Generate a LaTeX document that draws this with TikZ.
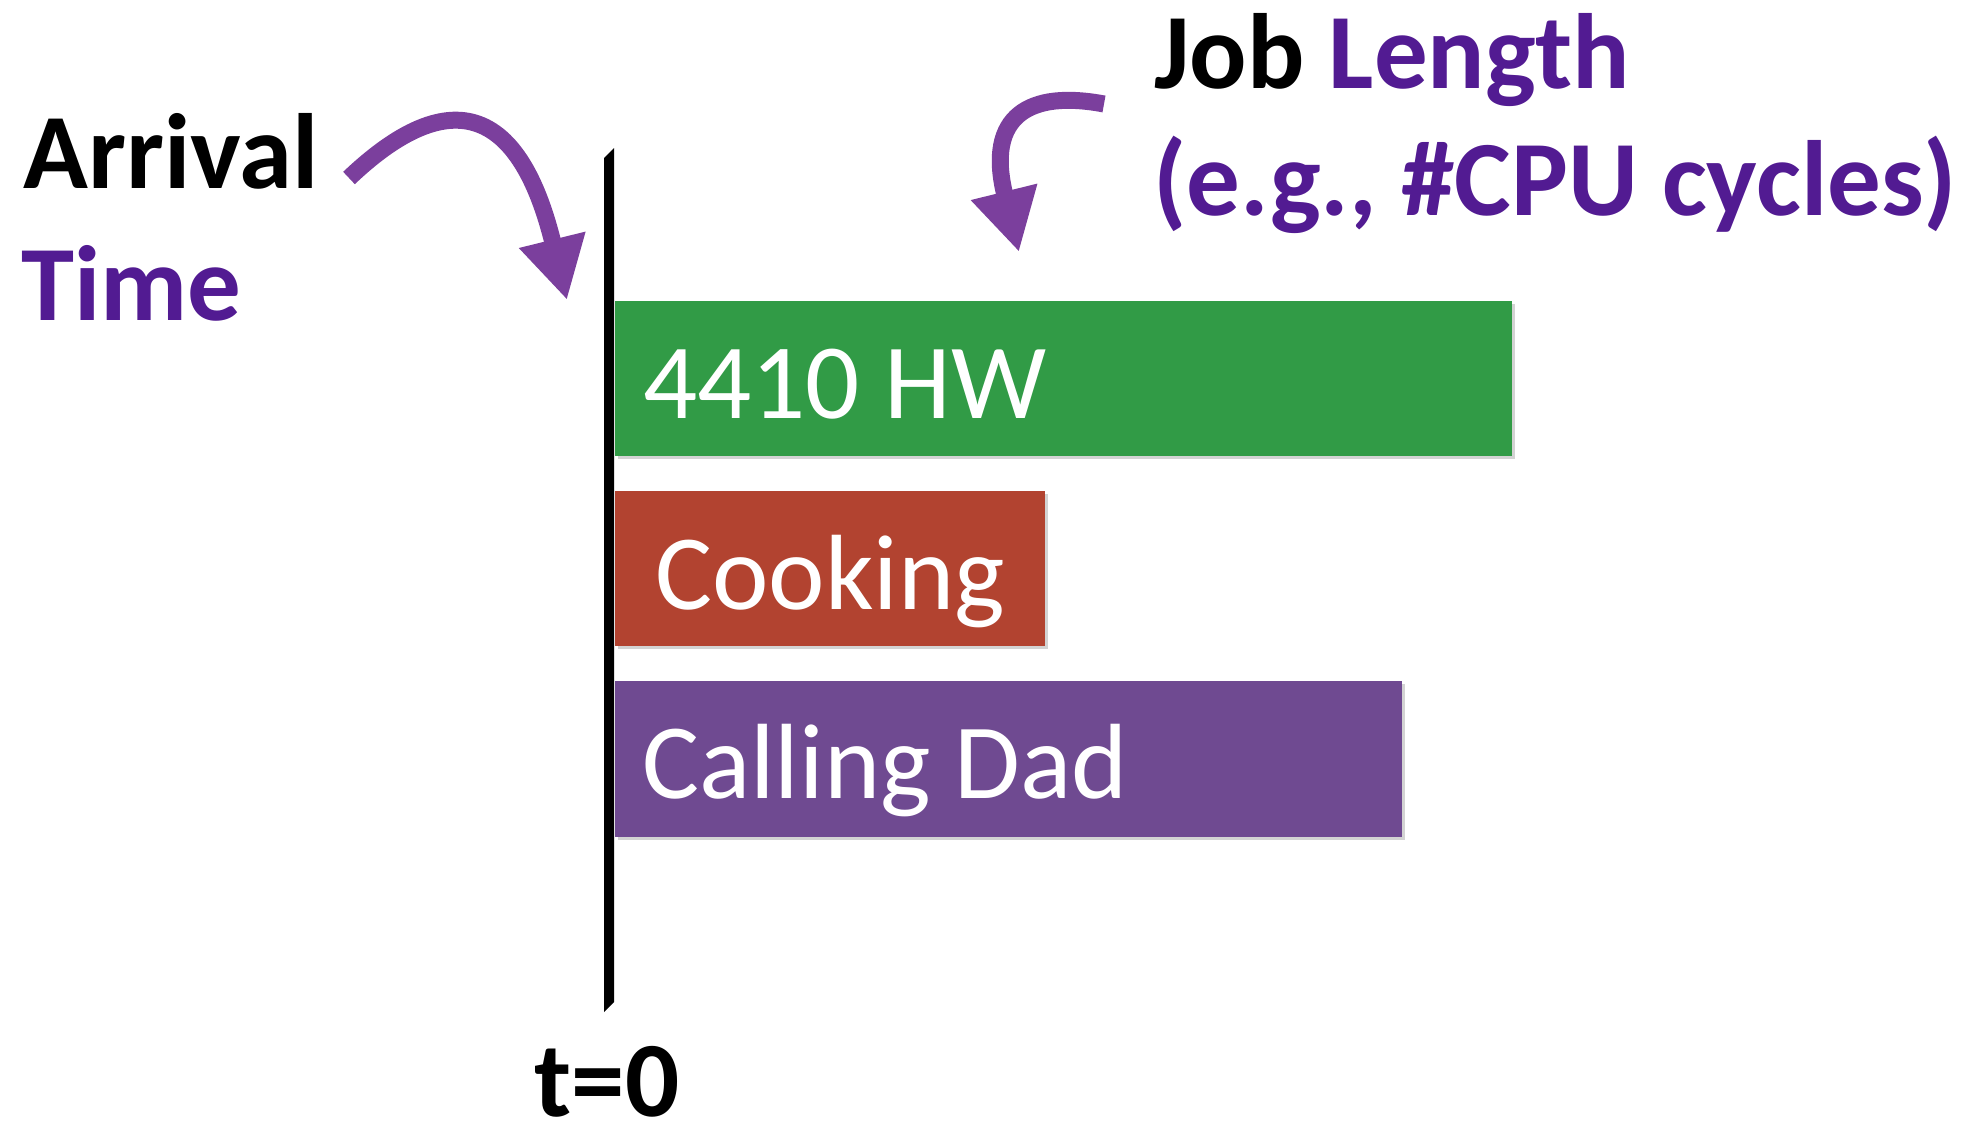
\documentclass[tikz,border=0pt]{standalone}
\usepackage{fontspec}
\setmainfont{Carlito}
\usetikzlibrary{arrows.meta,shadows}
\definecolor{headpurple}{HTML}{521B92}
\definecolor{arrowpurple}{HTML}{7B3F9D}
\definecolor{hwgreen}{HTML}{319B46}
\definecolor{cookred}{HTML}{B24330}
\definecolor{dadpurple}{HTML}{6F4A91}
\begin{document}
\begin{tikzpicture}[x=1pt,y=-1pt,
  heading/.style={inner sep=0pt, anchor=base west, font=\fontsize{107}{128}\selectfont\bfseries},
  barlabel/.style={inner sep=0pt, anchor=base west, text=white, font=\fontsize{107}{128}\selectfont},
  jobbar/.style={draw=none, inner sep=0pt, anchor=north west,
    drop shadow={shadow xshift=3pt, shadow yshift=-3pt, opacity=0.35}},
  bend arrow/.style={arrowpurple, line width=17pt, -{Triangle[width=64pt,length=62pt]}}]
\useasboundingbox (0,0) rectangle (1968,1143);

% time axis at t=0
\fill (604,158) -- (614,148) -- (614,1002) -- (604,1012) -- cycle;
\node[heading, anchor=base, text depth=0pt] (tzero) at (607,1116) {t=0};

% jobs as bars whose length is the job length
\node[jobbar, fill=hwgreen, minimum width=897pt, minimum height=155pt] (hw) at (615,301) {};
\node[jobbar, fill=cookred, minimum width=430pt, minimum height=155pt] (cook) at (615,491) {};
\node[jobbar, fill=dadpurple, minimum width=787pt, minimum height=156pt] (dad) at (615,681) {};
\node[barlabel] (hwtext) at (643,418) {4410 HW};
\node[barlabel] (cooktext) at (655,609) {Cooking};
\node[barlabel] (dadtext) at (642,798) {Calling Dad};

% headings
\node[heading] (arrival) at (23,188) {Arrival};
\node[heading, text=headpurple] (time) at (21,320) {Time};
\node[heading] (joblen) at (1154,88) {Job \textcolor{headpurple}{Length}};
\node[heading, text=headpurple] (cycles) at (1153,215) {(e.g., \#CPU cycles)};

% curved pointers
\coordinate (arrT) at (349,178);
\coordinate (arrH) at (567,300);
\draw[bend arrow] (arrT) .. controls (410,120) and (508,60) .. (arrH);
\coordinate (lenT) at (1104,104);
\coordinate (lenH) at (1019,252);
\draw[bend arrow] (lenT) .. controls (1030,90) and (985,115) .. (lenH);
\end{tikzpicture}
\end{document}
